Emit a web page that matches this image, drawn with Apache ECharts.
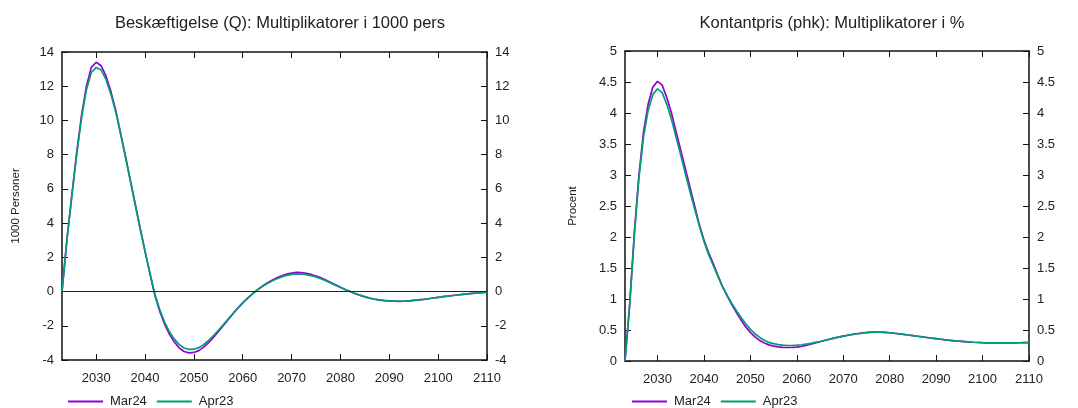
<!DOCTYPE html>
<html>
<head>
<meta charset="utf-8">
<script src="https://cdn.jsdelivr.net/npm/echarts@6/dist/echarts.min.js"></script>
<style>
html,body{margin:0;padding:0;background:#fff;}
#c{width:1078px;height:408px;}
</style>
</head>
<body>
<div id="c"></div>
<script>
// ---- data ----
const years = [];
for (let y = 2023; y <= 2110; y++) years.push(y);

const xTicks = [2030, 2040, 2050, 2060, 2070, 2080, 2090, 2100, 2110];

// Beskæftigelse (1000 personer)
const empMar24 = [
  0, 3.0, 5.6, 8.1, 10.3, 12.0, 13.1, 13.4, 13.2, 12.6,
  11.7, 10.6, 9.25, 7.9, 6.5, 5.1, 3.7, 2.35, 1.05, -0.2,
  -1.15, -1.9, -2.5, -2.95, -3.3, -3.5, -3.58, -3.56, -3.45, -3.25,
  -2.98, -2.68, -2.35, -2.0, -1.65, -1.3, -0.97, -0.66, -0.38, -0.13,
  0.1, 0.31, 0.5, 0.66, 0.8, 0.92, 1.02, 1.08, 1.12, 1.11,
  1.07, 1.0, 0.91, 0.8, 0.67, 0.53, 0.39, 0.25, 0.12, 0.0,
  -0.12, -0.22, -0.31, -0.39, -0.45, -0.5, -0.53, -0.55, -0.565, -0.57,
  -0.565, -0.555, -0.52, -0.49, -0.46, -0.42, -0.375, -0.335, -0.3, -0.265,
  -0.23, -0.2, -0.17, -0.14, -0.11, -0.085, -0.06, -0.04
];
const empApr23 = [
  0, 3.0, 5.55, 8.0, 10.15, 11.8, 12.8, 13.1, 12.95, 12.4,
  11.55, 10.5, 9.2, 7.85, 6.45, 5.05, 3.67, 2.35, 1.08, -0.15,
  -1.05, -1.78, -2.35, -2.78, -3.1, -3.3, -3.38, -3.37, -3.28, -3.1,
  -2.86, -2.58, -2.27, -1.94, -1.61, -1.28, -0.96, -0.66, -0.38, -0.13,
  0.1, 0.3, 0.47, 0.62, 0.75, 0.86, 0.95, 1.0, 1.03, 1.02,
  0.99, 0.93, 0.85, 0.75, 0.63, 0.5, 0.37, 0.24, 0.11, 0.0,
  -0.11, -0.21, -0.3, -0.38, -0.44, -0.49, -0.52, -0.54, -0.555, -0.56,
  -0.56, -0.55, -0.52, -0.49, -0.46, -0.42, -0.375, -0.335, -0.3, -0.265,
  -0.23, -0.2, -0.17, -0.14, -0.11, -0.085, -0.06, -0.04
];

// Kontantpris (pct.)
const priceMar24 = [
  0, 0.9, 2.05, 3.0, 3.7, 4.15, 4.42, 4.51, 4.45, 4.25,
  4.0, 3.7, 3.4, 3.1, 2.8, 2.5, 2.2, 1.95, 1.75, 1.57,
  1.38, 1.2, 1.05, 0.91, 0.78, 0.66, 0.55, 0.46, 0.39, 0.33,
  0.29, 0.26, 0.24, 0.228, 0.22, 0.218, 0.22, 0.225, 0.235, 0.25,
  0.27, 0.29, 0.31, 0.33, 0.35, 0.37, 0.385, 0.40, 0.415, 0.43,
  0.44, 0.45, 0.46, 0.465, 0.467, 0.466, 0.462, 0.456, 0.448, 0.439,
  0.429, 0.419, 0.409, 0.399, 0.389, 0.379, 0.369, 0.36, 0.351, 0.342,
  0.334, 0.326, 0.319, 0.313, 0.307, 0.302, 0.298, 0.295, 0.293, 0.292,
  0.291, 0.291, 0.291, 0.292, 0.293, 0.294, 0.295, 0.296
];
const priceApr23 = [
  0, 0.9, 2.02, 2.95, 3.62, 4.05, 4.3, 4.39, 4.33, 4.14,
  3.9, 3.61, 3.32, 3.02, 2.73, 2.45, 2.18, 1.93, 1.72, 1.54,
  1.37, 1.2, 1.06, 0.93, 0.81, 0.7, 0.6, 0.51, 0.44, 0.38,
  0.335, 0.3, 0.28, 0.265, 0.255, 0.25, 0.25, 0.255, 0.262, 0.272,
  0.285, 0.3, 0.315, 0.332, 0.35, 0.368, 0.385, 0.40, 0.415, 0.428,
  0.439, 0.449, 0.457, 0.463, 0.466, 0.466, 0.462, 0.456, 0.448, 0.439,
  0.429, 0.419, 0.409, 0.399, 0.389, 0.379, 0.369, 0.36, 0.351, 0.342,
  0.334, 0.326, 0.319, 0.313, 0.307, 0.302, 0.298, 0.295, 0.293, 0.292,
  0.291, 0.291, 0.291, 0.292, 0.293, 0.294, 0.295, 0.296
];

const seriesNames = ['Mar24', 'Apr23'];
const colors = ['#9400d3', '#009e73'];

// ---- chart ----
const FONT = '"Liberation Sans", Arial, Helvetica, sans-serif';
const TXT = '#222';
const pairs = (arr) => years.map((y, i) => [y, arr[i]]);

function xAxes(gi) {
  const base = {
    type: 'value', gridIndex: gi, min: 2023, max: 2110,
    splitLine: { show: false },
    axisLine: { show: true, onZero: false, lineStyle: { color: '#111', width: 1.5 } },
    axisTick: { show: true, inside: true, length: 6, customValues: xTicks, lineStyle: { color: '#111', width: 1 } }
  };
  return [
    Object.assign({}, base, {
      position: 'bottom',
      axisLabel: { show: true, customValues: xTicks, margin: 12, color: TXT, fontSize: 13, fontFamily: FONT, formatter: v => String(v) }
    }),
    Object.assign({}, base, { position: 'top', axisLabel: { show: false } })
  ];
}
function yAxes(gi, min, max, interval, name, gap) {
  const base = {
    type: 'value', gridIndex: gi, min: min, max: max, interval: interval,
    splitLine: { show: false },
    axisLine: { show: true, onZero: false, lineStyle: { color: '#111', width: 1.5 } },
    axisTick: { show: true, inside: true, length: 6, lineStyle: { color: '#111', width: 1 } },
    axisLabel: { show: true, margin: 8, color: TXT, fontSize: 13, fontFamily: FONT }
  };
  return [
    Object.assign({}, base, {
      position: 'left', name: name, nameLocation: 'middle', nameGap: gap, nameRotate: 90,
      nameTextStyle: { color: TXT, fontSize: 11.5, fontFamily: FONT }
    }),
    Object.assign({}, base, { position: 'right' })
  ];
}

function legend(left) {
  return {
    data: seriesNames, left: left, top: 395, orient: 'horizontal', padding: 0,
    icon: 'rect', itemWidth: 35, itemHeight: 2, itemGap: 10,
    textStyle: { color: TXT, fontSize: 13, fontFamily: FONT, padding: [0, 0, 0, 2] }
  };
}

function lineSeries(name, idx, data, xi, yi, extra) {
  return Object.assign({
    name: name, type: 'line', xAxisIndex: xi, yAxisIndex: yi,
    data: pairs(data), showSymbol: false, symbol: 'none',
    lineStyle: { color: colors[idx], width: 1.7 },
    itemStyle: { color: colors[idx] },
    animation: false
  }, extra || {});
}

const chart = echarts.init(document.getElementById('c'), null, { renderer: 'canvas' });
chart.setOption({
  backgroundColor: '#fff',
  animation: false,
  title: [
    { text: 'Beskæftigelse (Q): Multiplikatorer i 1000 pers', left: 275, top: 10, textAlign: 'center',
      textStyle: { color: TXT, fontSize: 16.5, fontWeight: 'normal', fontFamily: FONT } },
    { text: 'Kontantpris (phk): Multiplikatorer i %', left: 827, top: 10, textAlign: 'center',
      textStyle: { color: TXT, fontSize: 16.5, fontWeight: 'normal', fontFamily: FONT } }
  ],
  legend: [legend(68), legend(632)],
  grid: [
    { left: 62, right: 591, top: 52, bottom: 48, containLabel: false },
    { left: 625, right: 49, top: 51, bottom: 47, containLabel: false }
  ],
  xAxis: [].concat(xAxes(0), xAxes(1)),
  yAxis: [].concat(
    yAxes(0, -4, 14, 2, '1000 Personer', 40),
    yAxes(1, 0, 5, 0.5, 'Procent', 46)
  ),
  series: [
    lineSeries('Mar24', 0, empMar24, 0, 0, {
      markLine: {
        silent: true, symbol: 'none', label: { show: false },
        lineStyle: { color: '#222', width: 1, type: 'solid' },
        data: [{ yAxis: 0 }], animation: false
      }
    }),
    lineSeries('Apr23', 1, empApr23, 0, 0),
    lineSeries('Mar24', 0, priceMar24, 2, 2),
    lineSeries('Apr23', 1, priceApr23, 2, 2)
  ]
});
</script>
</body>
</html>
